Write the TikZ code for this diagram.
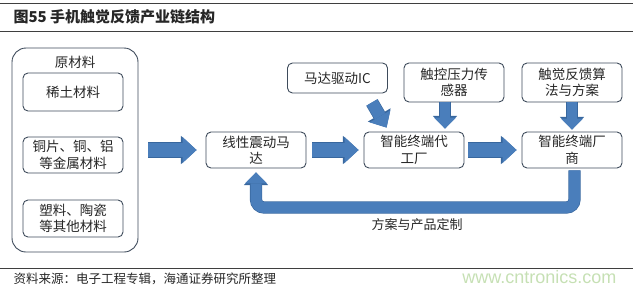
\documentclass[tikz,border=0pt]{standalone}
\usepackage{fontspec}
\newfontfamily\cjk{Noto Sans CJK SC}
\newfontfamily\markfont{Liberation Sans}
\usetikzlibrary{arrows.meta, positioning, calc}
\definecolor{c1}{HTML}{3E4B5B}
\definecolor{c2}{HTML}{4A7EBB}
\definecolor{c3}{HTML}{38679E}
\definecolor{rulecolor}{HTML}{3F3F3F}
\definecolor{textcolor}{HTML}{262626}
\definecolor{markcolor}{HTML}{C6E0B4}

\begin{document}
\begin{tikzpicture}[x=1pt, y=-1pt,
    every node/.style={font=\cjk, text=textcolor},
    blk/.style={rectangle, rounded corners=5pt, draw=c1, line width=0.9pt, fill=white,
        align=center, inner sep=0pt, minimum width=100pt, minimum height=36pt,
        font=\cjk\fontsize{13.5}{16.5}\selectfont},
    outer/.style={rectangle, rounded corners=14pt, draw=c1, line width=0.9pt,
        minimum width=126pt, minimum height=204pt},
    lab/.style={font=\cjk\fontsize{13}{15}\selectfont},
    rule/.style={rulecolor, line width=1pt},
    bigarr/.style={draw=c2, line width=14pt, -{Triangle[length=14pt, width=26pt, line width=0pt]},
        preaction={draw=c3, line width=15.2pt, -{Triangle[length=15.6pt, width=28.4pt, line width=0pt]}}},
    diagarr/.style={draw=c2, line width=12pt, -{Triangle[length=13pt, width=24pt, line width=0pt]},
        preaction={draw=c3, line width=13.2pt, -{Triangle[length=14.6pt, width=26.4pt, line width=0pt]}}},
    downarr/.style={draw=c2, line width=10pt, -{Triangle[length=11pt, width=22pt, line width=0pt]},
        preaction={draw=c3, line width=11.2pt, -{Triangle[length=12.6pt, width=24.4pt, line width=0pt]}}},
    backarr/.style={draw=c2, line width=11pt, -{Triangle[length=11pt, width=22pt, line width=0pt]},
        preaction={draw=c3, line width=12.2pt, -{Triangle[length=12.6pt, width=24.4pt, line width=0pt]}}},
]
\useasboundingbox (0,0) rectangle (640,293);

% ============================================================ title and rules
\draw[rule] (0,3) -- (633,3);
\node[anchor=west, font=\cjk\bfseries\fontsize{15}{17}\selectfont] (title) at (10,17) {图55 手机触觉反馈产业链结构};
\draw[rule] (0,31.5) -- (633,31.5);

% ============================================================ raw materials
\node[outer] (raw) at (75,150) {};
\node[lab, font=\cjk\fontsize{13.5}{16}\selectfont] (rawlab) at (75,62) {原材料};
\node[blk, minimum height=38pt] (earth) at (73,92) {稀土材料};
\node[blk] (metal) at (73,155) {铜片、铜、铝\\等金属材料};
\node[blk, minimum height=37pt] (other) at (73,218.5) {塑料、陶瓷\\等其他材料};

% ============================================================ chain
\node[blk] (motor) at (256,150) {线性震动马\\达};
\node[blk] (oem) at (414,150) {智能终端代\\工厂};
\node[blk] (brand) at (572,150) {智能终端厂\\商};

\node[blk, minimum height=30pt] (ic) at (337.5,78) {马达驱动IC};
\node[blk, minimum height=39pt] (sensor) at (454,82.5) {触控压力传\\感器};
\node[blk, minimum height=39pt] (algo) at (572,82.5) {触觉反馈算\\法与方案};

\draw[bigarr, shorten <=10pt, shorten >=9pt] (raw.east) -- (motor.west);
\draw[bigarr, shorten <=6pt, shorten >=5pt] (motor.east) -- (oem.west);
\draw[bigarr, shorten <=4pt, shorten >=5pt] (oem.east) -- (brand.west);

\draw[diagarr] ([xshift=-16pt, yshift=-9pt]ic.south east) -- ([xshift=23pt, yshift=4pt]oem.north west);
\draw[downarr, shorten >=3pt] ([xshift=-9pt]sensor.south) -- ([xshift=-9pt]sensor.south |- oem.north);
\draw[downarr, shorten >=2pt] (algo.south) -- (brand.north);

% back to the motor
\coordinate (turn) at (414,207.5);
\draw[backarr, rounded corners=8pt, shorten <=2pt, shorten >=4pt]
    ([xshift=2.5pt]brand.south) |- (turn) -| (motor.south);
\node[lab] (fblab) at (417,225) {方案与产品定制};

% ============================================================ source
\draw[rule] (0,268) -- (633,268);
\node[anchor=west, font=\cjk\fontsize{12.5}{14}\selectfont] (src) at (10,279) {资料来源：电子工程专辑，海通证券研究所整理};
\node[anchor=base east, font=\markfont\fontsize{18}{20}\selectfont, text=markcolor] (mark) at (620,283) {www.cntronics.com};

\end{tikzpicture}
\end{document}
